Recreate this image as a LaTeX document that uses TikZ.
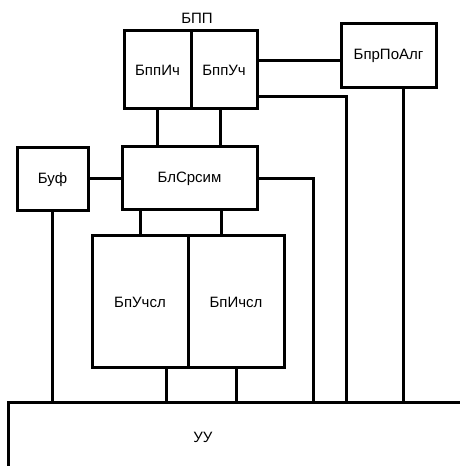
\documentclass[tikz,border=0pt]{standalone}
\usepackage{fontspec}
\setmainfont{Liberation Sans}
\usetikzlibrary{positioning}

\tikzset{
  blockbox/.style={draw, line width=3pt, inner sep=0pt, font=\fontsize{15}{17}\selectfont},
  wire/.style={line width=3pt}
}

\begin{document}
\begin{tikzpicture}[x=1pt, y=1pt]
\useasboundingbox (0,0) rectangle (460,466);

% Blocks
\node[blockbox, minimum width=67pt, minimum height=78pt] (ppi) at (157.5,396) {БппИч};
\node[blockbox, minimum width=66pt, minimum height=78pt] (ppu) at (224,396) {БппУч};
\node[font=\fontsize{15}{17}\selectfont] (ppp) at (197,448) {БПП};
\node[blockbox, minimum width=95pt, minimum height=64pt] (prpo) at (388.5,410) {БпрПоАлг};
\node[blockbox, minimum width=71pt, minimum height=63pt] (buf) at (52.5,286.5) {Буф};
\node[blockbox, minimum width=135pt, minimum height=63pt] (blsr) at (189.5,287.5) {БлСрсим};
\node[blockbox, minimum width=96pt, minimum height=132pt] (ucsl) at (140,164) {БпУчсл};
\node[blockbox, minimum width=96pt, minimum height=132pt] (icsl) at (236,164) {БпИчсл};

% Control unit
\coordinate (bus) at (8,63);
\coordinate (busend) at (460,63);
\coordinate (uubot) at (8,0);
\node[font=\fontsize{15}{17}\selectfont] (uu) at (203,29) {УУ};
\draw[wire] (uubot) -- (bus) -- (busend);

% Links between blocks
\draw[wire] (ppi.south) -- (ppi.south |- blsr.north);
\draw[wire] ([xshift=-4pt]ppu.south) -- ([xshift=-4pt]ppu.south |- blsr.north);
\draw[wire] ([yshift=9pt]ppu.east) -- ([yshift=9pt]ppu.east -| prpo.west);
\draw[wire] (buf.east |- blsr.west) -- (blsr.west);
\draw[wire] (ucsl.north |- blsr.south) -- (ucsl.north);
\draw[wire] ([xshift=31.5pt]blsr.south) -- ([xshift=31.5pt]blsr.south |- icsl.north);

% Links to the control unit
\draw[wire] (buf.south) -- (buf.south |- bus);
\draw[wire] ([xshift=26pt]ucsl.south) -- ([xshift=26pt]ucsl.south |- bus);
\draw[wire] (icsl.south) -- (icsl.south |- bus);
\draw[wire] (blsr.east) -| ([xshift=305pt]bus);
\draw[wire] ([yshift=-27pt]ppu.east) -| ([xshift=338pt]bus);
\draw[wire] ([xshift=14.5pt]prpo.south) -- ([xshift=14.5pt]prpo.south |- bus);

\end{tikzpicture}
\end{document}
